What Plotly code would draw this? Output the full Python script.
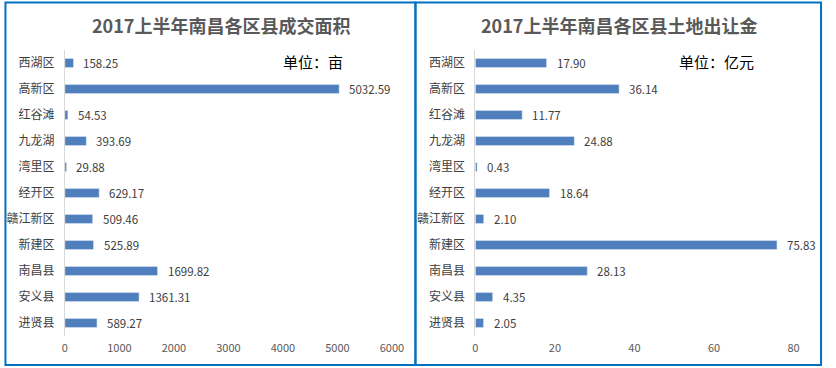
import plotly.graph_objects as go

W, H = 836, 368

categories = ["西湖区", "高新区", "红谷滩", "九龙湖", "湾里区", "经开区", "赣江新区", "新建区", "南昌县", "安义县", "进贤县"]
area_values = [158.25, 5032.59, 54.53, 393.69, 29.88, 629.17, 509.46, 525.89, 1699.82, 1361.31, 589.27]
fee_values = [17.90, 36.14, 11.77, 24.88, 0.43, 18.64, 2.10, 75.83, 28.13, 4.35, 2.05]
area_ticks = [0, 1000, 2000, 3000, 4000, 5000, 6000]
fee_ticks = [0, 20, 40, 60, 80]

title_left = "2017上半年南昌各区县成交面积"
title_right = "2017上半年南昌各区县土地出让金"
unit_left = "单位：亩"
unit_right = "单位：亿元"

BAR = "#4F7FBD"
TXT = "#404040"
FONT = "Noto Sans CJK SC"

def px(x):
    return x / W

def py(y):
    return 1 - y / H

fig = go.Figure()
fig.add_trace(go.Bar(
    x=area_values, y=categories, orientation="h", marker_color=BAR,
    width=0.35, xaxis="x", yaxis="y", showlegend=False, hoverinfo="skip",
))
fig.add_trace(go.Bar(
    x=fee_values, y=categories, orientation="h", marker_color=BAR,
    width=0.35, xaxis="x2", yaxis="y2", showlegend=False, hoverinfo="skip",
))

annotations = []
for c, v in zip(categories, area_values):
    annotations.append(dict(x=v, y=c, xref="x", yref="y", text=f"{v:.2f}", showarrow=False,
                            xanchor="left", xshift=8, font=dict(size=11.5, color=TXT, family=FONT)))
for c, v in zip(categories, fee_values):
    annotations.append(dict(x=v, y=c, xref="x2", yref="y2", text=f"{v:.2f}", showarrow=False,
                            xanchor="left", xshift=8, font=dict(size=11.5, color=TXT, family=FONT)))

annotations += [
    dict(x=px(222), y=py(25), xref="paper", yref="paper", text=f"<b>{title_left}</b>", showarrow=False,
         xanchor="center", yanchor="middle", font=dict(size=18, color="#595959", family=FONT)),
    dict(x=px(627), y=py(25), xref="paper", yref="paper", text=f"<b>{title_right}</b>", showarrow=False,
         xanchor="center", yanchor="middle", font=dict(size=18, color="#595959", family=FONT)),
    dict(x=px(283), y=py(62), xref="paper", yref="paper", text=unit_left, showarrow=False,
         xanchor="left", yanchor="middle", font=dict(size=15, color="#000000", family=FONT)),
    dict(x=px(686), y=py(62), xref="paper", yref="paper", text=unit_right, showarrow=False,
         xanchor="left", yanchor="middle", font=dict(size=15, color="#000000", family=FONT)),
]

BORDER = "#0070C0"
shapes = [
    dict(type="rect", xref="paper", yref="paper", x0=px(2.5), x1=px(420), y0=py(365), y1=py(2.5),
         line=dict(color=BORDER, width=2)),
    dict(type="rect", xref="paper", yref="paper", x0=px(420), x1=px(833), y0=py(365), y1=py(2.5),
         line=dict(color=BORDER, width=2)),
]

ydom = [py(336), py(50)]

xcommon = dict(showgrid=False, zeroline=False, showline=False, ticks="", ticklabelstandoff=4,
               tickfont=dict(size=11, color="#595959", family=FONT), fixedrange=True)
ycommon = dict(showgrid=False, zeroline=False, showline=True, linecolor="#D9D9D9", linewidth=1,
               ticks="", autorange="reversed", domain=ydom, ticklabelstandoff=7,
               tickfont=dict(size=12, color=TXT, family=FONT), type="category", fixedrange=True)

fig.update_layout(
    width=W, height=H,
    margin=dict(l=0, r=0, t=0, b=0),
    paper_bgcolor="white", plot_bgcolor="rgba(0,0,0,0)",
    xaxis=dict(domain=[px(63), px(396)], range=[0, 6000], tickvals=area_ticks, anchor="y", **xcommon),
    yaxis=dict(anchor="x", **ycommon),
    xaxis2=dict(domain=[px(481), px(805)], range=[0, 80], tickvals=fee_ticks, anchor="y2", **xcommon),
    yaxis2=dict(anchor="x2", **ycommon),
    annotations=annotations,
    shapes=shapes,
    bargap=0.65,
)

fig.write_html("out.html", config={"displayModeBar": False},
               post_script="document.body.style.margin='0';document.body.style.overflow='hidden';")
